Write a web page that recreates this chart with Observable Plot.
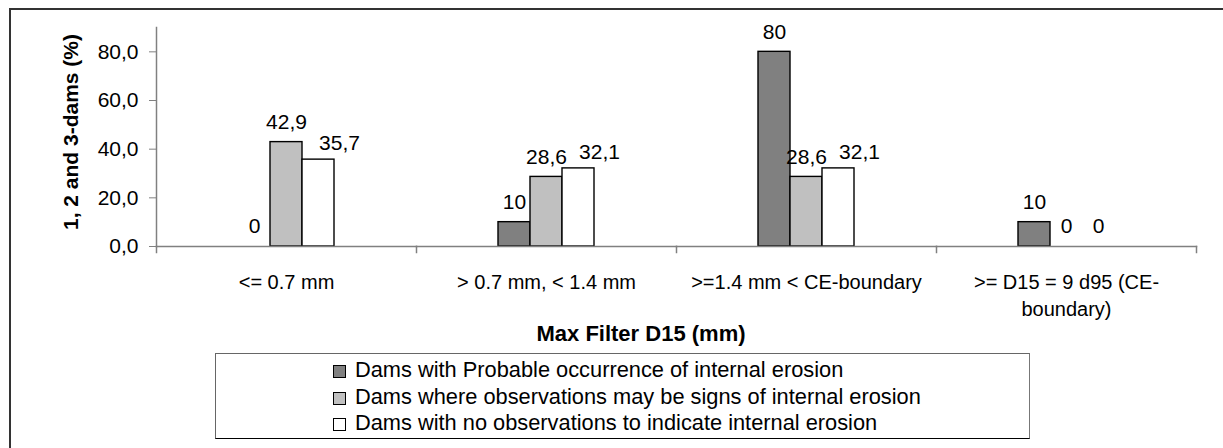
<!DOCTYPE html>
<html>
<head>
<meta charset="utf-8">
<script src="https://cdn.jsdelivr.net/npm/d3@7"></script>
<script src="https://cdn.jsdelivr.net/npm/@observablehq/plot@0.6"></script>
<style>
  html, body { margin: 0; padding: 0; background: #fff; overflow: hidden; }
  #wrap { position: relative; width: 1223px; height: 448px; font-family: "Liberation Sans", Arial, sans-serif; }
  #border { position: absolute; left: 9px; top: 8px; width: 1400px; height: 600px; border-top: 2px solid #333; border-left: 2px solid #333; }
  #chart { position: absolute; left: 0; top: 0; }
  #xtitle { position: absolute; left: 0; width: 1282px; top: 321px; text-align: center; font-weight: bold; font-size: 22px; color: #000; }
  #legend { position: absolute; left: 215px; top: 353px; width: 815px; height: 86px; box-sizing: border-box;
            border: 1px solid #666; border-bottom-color: #000; border-right-color: #777; padding: 3px 0 0 117px; font-size: 21.8px; color: #000; }
  #legend .row { height: 26.5px; line-height: 26.5px; white-space: nowrap; }
  #legend .sw { display: inline-block; width: 13px; height: 13px; box-sizing: border-box; border: 1px solid #000; margin-right: 9px; vertical-align: -1px; }
</style>
</head>
<body>
<div id="wrap">
  <div id="border"></div>
  <div id="chart"></div>
  <div id="xtitle"></div>
  <div id="legend"></div>
</div>
<script>
const categories = ["<= 0.7 mm", "> 0.7 mm, < 1.4 mm", ">=1.4 mm < CE-boundary", ">= D15 = 9 d95 (CE-\nboundary)"];
const seriesNames = [
  "Dams with Probable occurrence of internal erosion",
  "Dams where observations may be signs of internal erosion",
  "Dams with no observations to indicate internal erosion"
];
const probableValues = [0, 10, 80, 10];
const possibleValues = [42.9, 28.6, 28.6, 0];
const noneValues = [35.7, 32.1, 32.1, 0];
const seriesColors = ["#808080", "#c0c0c0", "#ffffff"];
const yTicks = [0, 20, 40, 60, 80];
const yTickLabels = ["0,0", "20,0", "40,0", "60,0", "80,0"];
const yTitle = "1, 2 and 3-dams (%)";
const xTitle = "Max Filter D15 (mm)";

const seriesValues = [probableValues, possibleValues, noneValues];
const data = categories.flatMap((c, i) => seriesValues.map((vals, j) => ({category: c, series: seriesNames[j], value: vals[i]})));
const fmt = v => String(v).replace(".", ",");
const shiftedLabel = d => d.series === seriesNames[2] && d.value > 0;

const plot = Plot.plot({
  width: 1223,
  height: 330,
  marginLeft: 155,
  marginRight: 26,
  marginTop: 27,
  marginBottom: 84,
  style: {fontFamily: "Liberation Sans, Arial, sans-serif", background: "transparent", color: "#000"},
  fx: {domain: categories, padding: 0, label: null},
  x: {domain: seriesNames, paddingInner: 0, paddingOuter: 2.53, align: 0.5, axis: null},
  y: {domain: [0, 90], label: null},
  color: {domain: seriesNames, range: seriesColors},
  marks: [
    Plot.barY(data, {fx: "category", x: "series", y: "value", fill: "series", stroke: "#000", strokeWidth: 1.4}),
    Plot.frame({anchor: "bottom", stroke: "#808080", strokeWidth: 1.5}),
    Plot.frame({anchor: "left", facetAnchor: "left", stroke: "#808080", strokeWidth: 1.5}),
    Plot.frame({anchor: "left", insetTop: 219, insetBottom: -6, stroke: "#808080", strokeWidth: 1.5}),
    Plot.frame({anchor: "right", facetAnchor: "right", insetTop: 219, insetBottom: -6, stroke: "#808080", strokeWidth: 1.5}),
    Plot.text(data.filter(d => !shiftedLabel(d)), {fx: "category", x: "series", y: "value", text: d => fmt(d.value),
      lineAnchor: "middle", dy: -20, fontSize: 21, fill: "#000"}),
    Plot.text(data.filter(shiftedLabel), {fx: "category", x: "series", y: "value", text: d => fmt(d.value),
      lineAnchor: "middle", dx: 21, dy: -16, fontSize: 21, fill: "#000"}),
    Plot.axisY({ticks: yTicks, tickFormat: (d, i) => yTickLabels[yTicks.indexOf(d)], tickSize: 7, tickPadding: 11,
      fontSize: 21, label: null, stroke: "#808080"}),
    Plot.text([yTitle], {frameAnchor: "left", facetAnchor: "left", rotate: -90, dx: -85, dy: -5,
      textAnchor: "middle", lineAnchor: "middle", fontWeight: "bold", fontSize: 21, fill: "#000"}),
    Plot.axisFx({anchor: "bottom", tickSize: 0, tickPadding: 23, fontSize: 20, lineHeight: 1.35, label: null})
  ]
});
document.getElementById("chart").appendChild(plot);
document.getElementById("xtitle").textContent = xTitle;

const legend = document.getElementById("legend");
seriesNames.forEach((name, i) => {
  const row = document.createElement("div");
  row.className = "row";
  const sw = document.createElement("span");
  sw.className = "sw";
  sw.style.background = seriesColors[i];
  row.appendChild(sw);
  row.appendChild(document.createTextNode(name));
  legend.appendChild(row);
});
</script>
</body>
</html>
